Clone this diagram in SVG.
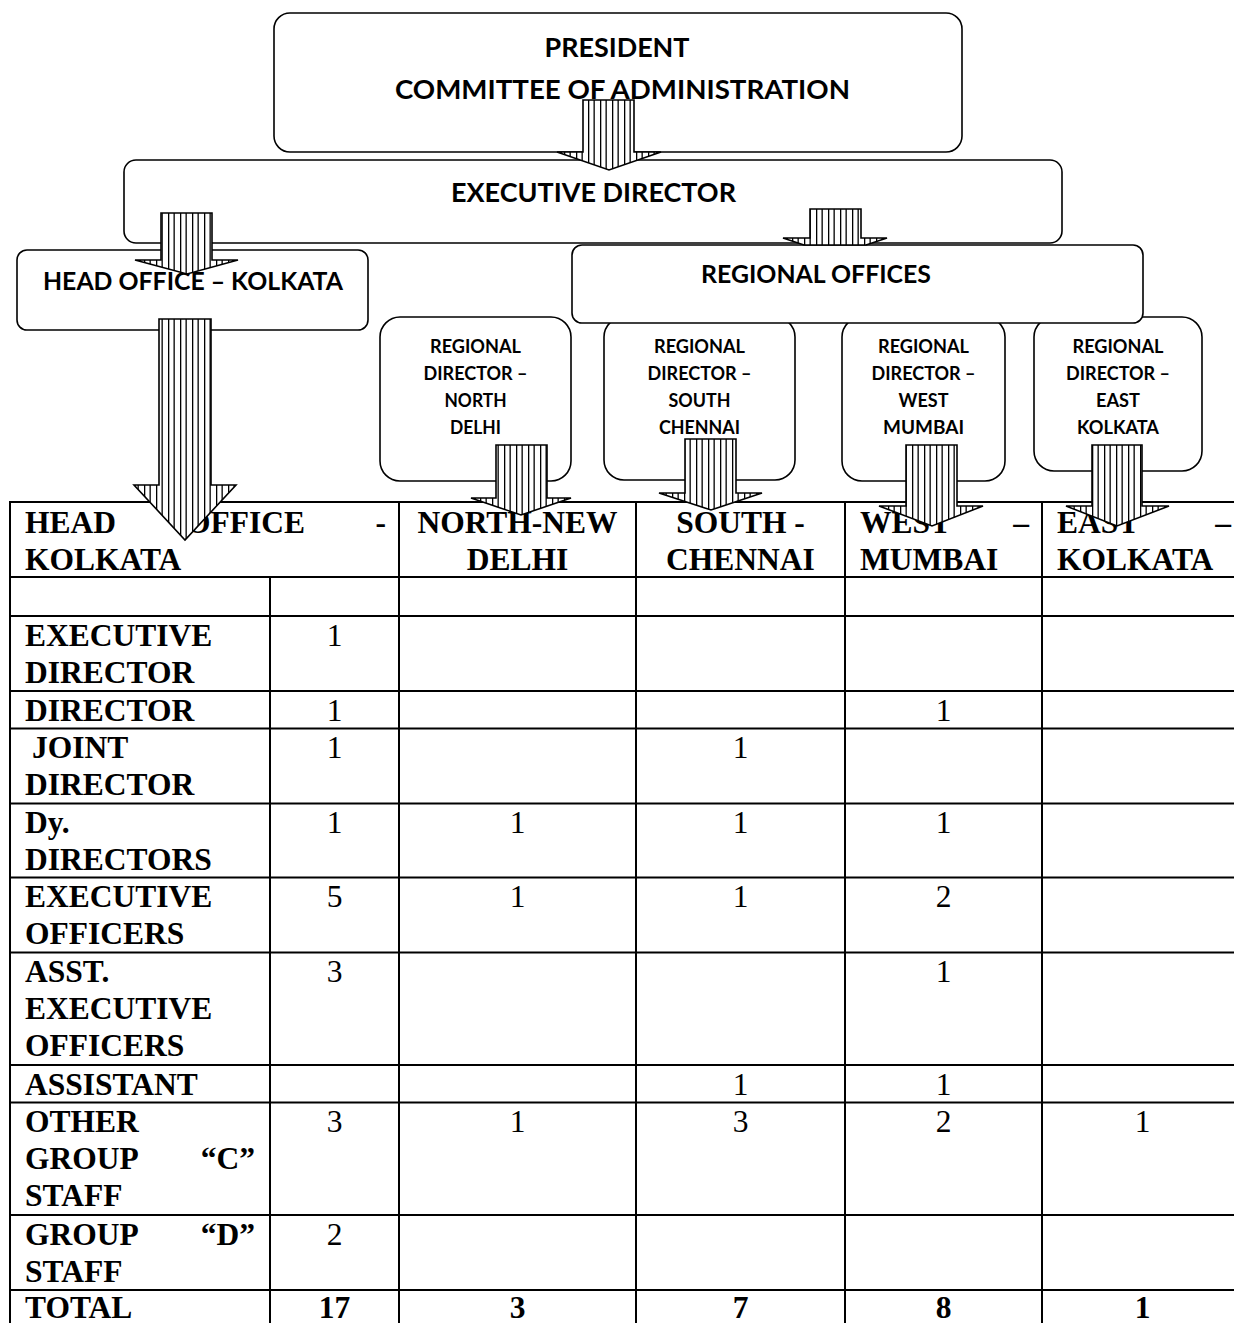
<svg xmlns="http://www.w3.org/2000/svg" width="1234" height="1323" viewBox="0 0 1234 1323">
  <defs>
    <!-- vertical stripe fill used by the block arrows -->
    <pattern id="stripes" width="12" height="10" patternUnits="userSpaceOnUse">
      <rect width="12" height="10" fill="#fff"/>
      <rect x="0" width="1.3" height="10" fill="#000"/>
      <rect x="5.5" width="1.3" height="10" fill="#000"/>
    </pattern>
  </defs>
  <style>
    .box { fill: #fff; stroke: #000; stroke-width: 1.6; }
    .arrow { fill: url(#stripes); stroke: #000; stroke-width: 1.6; stroke-linejoin: miter; }
    .t { font-family: Lato, "Liberation Sans", sans-serif; font-weight: bold; text-anchor: middle; fill: #000; }
    .big { font-size: 27px; }
    .mid { font-size: 25px; }
    .small { font-size: 19px; }
    .grid line { stroke: #000; stroke-width: 2; }
    .cell { font-family: "Liberation Serif", "Times New Roman", serif; font-size: 31.5px; font-weight: bold; fill: #000; }
    .num { font-family: "Liberation Serif", "Times New Roman", serif; font-size: 31.5px; text-anchor: middle; fill: #000; }
    .tot { font-weight: bold; }
    .c { text-anchor: middle; }
    .e { text-anchor: end; }
  </style>
  <rect width="1234" height="1323" fill="#fff"/>

  <!-- staffing table -->
  <g id="staff-table">
    <g class="grid">
      <line x1="10" y1="502" x2="1243" y2="502"/>
      <line x1="10" y1="577" x2="1243" y2="577"/>
      <line x1="10" y1="616" x2="1243" y2="616"/>
      <line x1="10" y1="691" x2="1243" y2="691"/>
      <line x1="10" y1="728.5" x2="1243" y2="728.5"/>
      <line x1="10" y1="803.5" x2="1243" y2="803.5"/>
      <line x1="10" y1="877.5" x2="1243" y2="877.5"/>
      <line x1="10" y1="952.5" x2="1243" y2="952.5"/>
      <line x1="10" y1="1065" x2="1243" y2="1065"/>
      <line x1="10" y1="1102.5" x2="1243" y2="1102.5"/>
      <line x1="10" y1="1215" x2="1243" y2="1215"/>
      <line x1="10" y1="1290" x2="1243" y2="1290"/>
      <line x1="10" y1="1327" x2="1243" y2="1327"/>
      <line x1="10" y1="501" x2="10" y2="1330"/>
      <line x1="270" y1="577" x2="270" y2="1330"/>
      <line x1="399" y1="501" x2="399" y2="1330"/>
      <line x1="636" y1="501" x2="636" y2="1330"/>
      <line x1="845" y1="501" x2="845" y2="1330"/>
      <line x1="1042" y1="501" x2="1042" y2="1330"/>
      <line x1="1243" y1="501" x2="1243" y2="1330"/>
    </g>

    <!-- header row -->
    <text class="cell" x="25" y="533">HEAD</text>
    <text class="cell" x="186" y="533">OFFICE</text>
    <text class="cell e" x="386" y="533">-</text>
    <text class="cell" x="25" y="570">KOLKATA</text>
    <text class="cell c" x="517.5" y="533">NORTH-NEW</text>
    <text class="cell c" x="517.5" y="570">DELHI</text>
    <text class="cell c" x="740.5" y="533">SOUTH -</text>
    <text class="cell c" x="740.5" y="570">CHENNAI</text>
    <text class="cell" x="860" y="533">WEST</text>
    <text class="cell e" x="1029" y="533">–</text>
    <text class="cell" x="860" y="570">MUMBAI</text>
    <text class="cell" x="1057" y="533">EAST</text>
    <text class="cell e" x="1231" y="533">–</text>
    <text class="cell" x="1057" y="570">KOLKATA</text>

    <!-- row labels -->
    <text class="cell" x="25" y="645.5">EXECUTIVE</text>
    <text class="cell" x="25" y="682.5">DIRECTOR</text>
    <text class="cell" x="25" y="720.5">DIRECTOR</text>
    <text class="cell" x="32" y="758">JOINT</text>
    <text class="cell" x="25" y="795">DIRECTOR</text>
    <text class="cell" x="25" y="833">Dy.</text>
    <text class="cell" x="25" y="870">DIRECTORS</text>
    <text class="cell" x="25" y="907">EXECUTIVE</text>
    <text class="cell" x="25" y="944">OFFICERS</text>
    <text class="cell" x="25" y="982">ASST.</text>
    <text class="cell" x="25" y="1019">EXECUTIVE</text>
    <text class="cell" x="25" y="1056">OFFICERS</text>
    <text class="cell" x="25" y="1094.5">ASSISTANT</text>
    <text class="cell" x="25" y="1132">OTHER</text>
    <text class="cell" x="25" y="1169">GROUP</text>
    <text class="cell e" x="255" y="1169">“C”</text>
    <text class="cell" x="25" y="1206">STAFF</text>
    <text class="cell" x="25" y="1244.5">GROUP</text>
    <text class="cell e" x="255" y="1244.5">“D”</text>
    <text class="cell" x="25" y="1281.5">STAFF</text>
    <text class="cell" x="25" y="1317.5">TOTAL</text>

    <!-- counts -->
    <text class="num" x="334.5" y="645.5">1</text>

    <text class="num" x="334.5" y="720.5">1</text>
    <text class="num" x="943.5" y="720.5">1</text>

    <text class="num" x="334.5" y="758">1</text>
    <text class="num" x="740.5" y="758">1</text>

    <text class="num" x="334.5" y="833">1</text>
    <text class="num" x="517.5" y="833">1</text>
    <text class="num" x="740.5" y="833">1</text>
    <text class="num" x="943.5" y="833">1</text>

    <text class="num" x="334.5" y="907">5</text>
    <text class="num" x="517.5" y="907">1</text>
    <text class="num" x="740.5" y="907">1</text>
    <text class="num" x="943.5" y="907">2</text>

    <text class="num" x="334.5" y="982">3</text>
    <text class="num" x="943.5" y="982">1</text>

    <text class="num" x="740.5" y="1094.5">1</text>
    <text class="num" x="943.5" y="1094.5">1</text>

    <text class="num" x="334.5" y="1132">3</text>
    <text class="num" x="517.5" y="1132">1</text>
    <text class="num" x="740.5" y="1132">3</text>
    <text class="num" x="943.5" y="1132">2</text>
    <text class="num" x="1142.5" y="1132">1</text>

    <text class="num" x="334.5" y="1244.5">2</text>

    <text class="num tot" x="334.5" y="1317.5">17</text>
    <text class="num tot" x="517.5" y="1317.5">3</text>
    <text class="num tot" x="740.5" y="1317.5">7</text>
    <text class="num tot" x="943.5" y="1317.5">8</text>
    <text class="num tot" x="1142.5" y="1317.5">1</text>
  </g>

  <!-- organisation nodes -->
  <g id="nodes">
    <g id="president">
      <rect class="box" x="274" y="13" width="688" height="139" rx="16"/>
      <text class="t big" x="617" y="57" textLength="145" lengthAdjust="spacingAndGlyphs">PRESIDENT</text>
      <text class="t big" x="622.5" y="99" textLength="455" lengthAdjust="spacingAndGlyphs">COMMITTEE OF ADMINISTRATION</text>
    </g>
    <g id="executive-director">
      <rect class="box" x="124" y="160" width="938" height="83" rx="12"/>
      <text class="t big" x="593.5" y="202" textLength="285" lengthAdjust="spacingAndGlyphs">EXECUTIVE DIRECTOR</text>
    </g>
    <g id="head-office">
      <rect class="box" x="17" y="250" width="351" height="80" rx="10"/>
      <text class="t mid" x="193" y="290" textLength="300" lengthAdjust="spacingAndGlyphs">HEAD OFFICE – KOLKATA</text>
    </g>
    <g id="rd-north">
      <rect class="box" x="380" y="317" width="191" height="164" rx="20"/>
      <text class="t small" x="475.5" y="353" textLength="91" lengthAdjust="spacingAndGlyphs">REGIONAL</text>
      <text class="t small" x="475.5" y="380" textLength="104" lengthAdjust="spacingAndGlyphs">DIRECTOR –</text>
      <text class="t small" x="475.5" y="407" textLength="62" lengthAdjust="spacingAndGlyphs">NORTH</text>
      <text class="t small" x="475.5" y="434" textLength="51" lengthAdjust="spacingAndGlyphs">DELHI</text>
    </g>
    <g id="rd-south">
      <rect class="box" x="604" y="317" width="191" height="163" rx="20"/>
      <text class="t small" x="699.5" y="353" textLength="91" lengthAdjust="spacingAndGlyphs">REGIONAL</text>
      <text class="t small" x="699.5" y="380" textLength="104" lengthAdjust="spacingAndGlyphs">DIRECTOR –</text>
      <text class="t small" x="699.5" y="407" textLength="62" lengthAdjust="spacingAndGlyphs">SOUTH</text>
      <text class="t small" x="699.5" y="434" textLength="81" lengthAdjust="spacingAndGlyphs">CHENNAI</text>
    </g>
    <g id="rd-west">
      <rect class="box" x="842" y="317" width="163" height="164" rx="20"/>
      <text class="t small" x="923.5" y="353" textLength="91" lengthAdjust="spacingAndGlyphs">REGIONAL</text>
      <text class="t small" x="923.5" y="380" textLength="104" lengthAdjust="spacingAndGlyphs">DIRECTOR –</text>
      <text class="t small" x="923.5" y="407" textLength="50" lengthAdjust="spacingAndGlyphs">WEST</text>
      <text class="t small" x="923.5" y="434" textLength="81" lengthAdjust="spacingAndGlyphs">MUMBAI</text>
    </g>
    <g id="rd-east">
      <rect class="box" x="1034" y="317" width="168" height="154" rx="20"/>
      <text class="t small" x="1118" y="353" textLength="91" lengthAdjust="spacingAndGlyphs">REGIONAL</text>
      <text class="t small" x="1118" y="380" textLength="104" lengthAdjust="spacingAndGlyphs">DIRECTOR –</text>
      <text class="t small" x="1118" y="407" textLength="44" lengthAdjust="spacingAndGlyphs">EAST</text>
      <text class="t small" x="1118" y="434" textLength="82" lengthAdjust="spacingAndGlyphs">KOLKATA</text>
    </g>
    <g id="regional-offices">
      <rect class="box" x="572" y="245" width="571" height="78" rx="10"/>
      <text class="t mid" x="816" y="283" textLength="230" lengthAdjust="spacingAndGlyphs">REGIONAL OFFICES</text>
    </g>
  </g>

  <!-- striped block arrows -->
  <g id="connectors">
    <polygon class="arrow" points="583,100 634,100 634,152 661,152 609,170 557,152 583,152"/>
    <polygon class="arrow" points="161,213 212,213 212,260 238,260 187,274 135,260 161,260"/>
    <polygon class="arrow" points="810,209 861,209 861,238 887,238 866,245 804,245 783,238 810,238"/>
    <polygon class="arrow" points="159,319 211,319 211,485 236,485 185,540 134,485 159,485"/>
    <polygon class="arrow" points="496,445 547,445 547,498 571,498 521,515 471,498 496,498"/>
    <polygon class="arrow" points="685,439 736,439 736,493 762,493 711,510 659,493 685,493"/>
    <polygon class="arrow" points="906,445 957,445 957,506 983,506 932,526 879,506 906,506"/>
    <polygon class="arrow" points="1092,445 1142,445 1142,506 1169,506 1117,526 1066,506 1092,506"/>
  </g>
</svg>
